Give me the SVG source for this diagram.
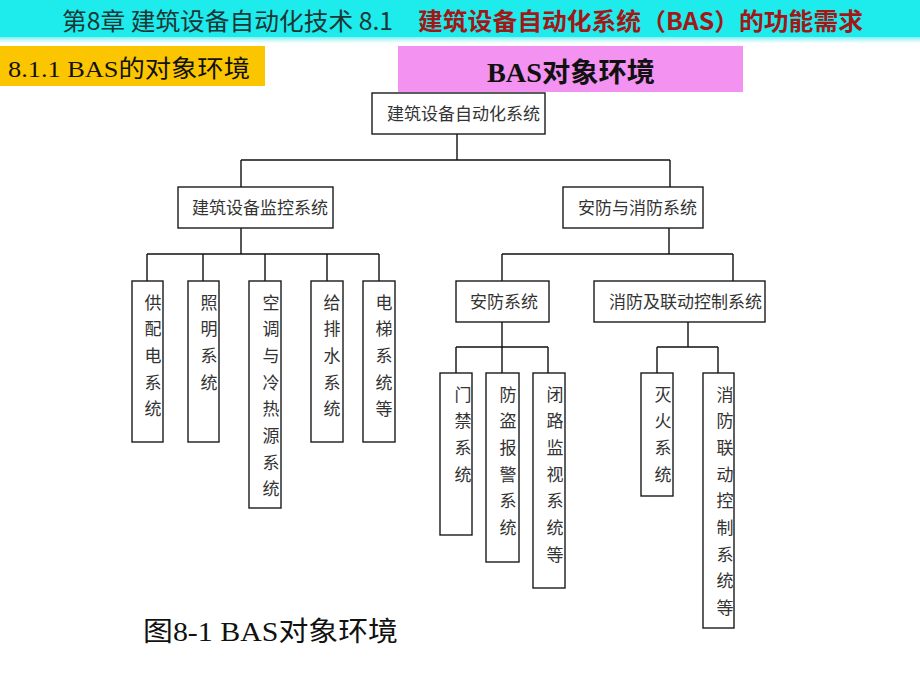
<svg xmlns="http://www.w3.org/2000/svg" width="920" height="690" viewBox="0 0 920 690">
<defs>
<linearGradient id="shade" x1="0" y1="0" x2="0" y2="1">
<stop offset="0" stop-color="#7ff2f2"/>
<stop offset="1" stop-color="#ffffff"/>
</linearGradient>
<style>
.cjk{font-family:"Noto Sans CJK SC","Noto Sans",sans-serif;}
.box{fill:#ffffff;stroke:#1a1a1a;stroke-width:1.4;}
.lbl{font-family:"Noto Sans CJK SC",sans-serif;font-size:17px;fill:#333333;}
.vl{font-family:"Noto Sans CJK SC",sans-serif;font-size:17px;fill:#333333;text-anchor:middle;}
.conn{fill:none;stroke:#111111;stroke-width:1.4;}
</style>
</defs>
<rect x="0" y="0" width="920" height="690" fill="#ffffff"/>
<g id="header">
<rect x="0" y="0" width="920" height="37" fill="#1eebeb"/>
<rect x="0" y="37" width="920" height="6" fill="url(#shade)"/>
<text x="62" y="30" font-family="Noto Sans CJK SC, sans-serif" font-size="24" fill="#1d3636" textLength="331" lengthAdjust="spacingAndGlyphs">第8章 建筑设备自动化技术 8.1</text>
<text x="418" y="30" font-family="Noto Sans CJK SC, sans-serif" font-size="24" font-weight="bold" fill="#a01818" textLength="445" lengthAdjust="spacingAndGlyphs">建筑设备自动化系统（BAS）的功能需求</text>
</g>
<g id="section">
<rect x="0" y="46" width="265" height="40" fill="#fbc600"/>
<text x="8" y="77" font-family="Liberation Serif, Noto Sans CJK SC, serif" font-size="24" fill="#111111" textLength="242" lengthAdjust="spacingAndGlyphs">8.1.1 BAS的对象环境</text>
</g>
<g id="heading">
<rect x="398" y="46" width="345" height="46" fill="#f392f0"/>
<text x="487" y="82" font-family="Liberation Serif, Noto Sans CJK SC, serif" font-size="27" font-weight="bold" fill="#111111" textLength="168" lengthAdjust="spacingAndGlyphs">BAS对象环境</text>
</g>
<g id="connectors" class="conn">
<path d="M457 134V160M241 160H670M241 160V187M670 160V187"/>
<path d="M241 228V254M147 254H379M147 254V281M203 254V281M265 254V281M327 254V281M379 254V281"/>
<path d="M669 228V254M502 254H733M502 254V281M733 254V281"/>
<path d="M502 322V373M456 347H548M456 347V373M548 347V373"/>
<path d="M688 322V347M657 347H718M657 347V373M718 347V373"/>
</g>
<g id="n-root"><rect class="box" x="372" y="93" width="173" height="41"/><text class="lbl" x="387" y="119.5">建筑设备自动化系统</text></g>
<g id="n-jk"><rect class="box" x="178" y="187" width="155" height="41"/><text class="lbl" x="192" y="213.5">建筑设备监控系统</text></g>
<g id="n-afxf"><rect class="box" x="563" y="187" width="140" height="41"/><text class="lbl" x="578" y="213.5">安防与消防系统</text></g>
<g id="n-af"><rect class="box" x="456" y="281" width="93" height="41"/><text class="lbl" x="470" y="307.5">安防系统</text></g>
<g id="n-xf"><rect class="box" x="594" y="281" width="171" height="41"/><text class="lbl" x="609" y="307.5">消防及联动控制系统</text></g>
<g id="n-gpd"><rect class="box" x="132" y="281" width="31" height="161"/><text class="vl"><tspan x="153" y="308.5">供</tspan><tspan x="153" dy="26.7">配</tspan><tspan x="153" dy="26.7">电</tspan><tspan x="153" dy="26.7">系</tspan><tspan x="153" dy="26.7">统</tspan></text></g>
<g id="n-zm"><rect class="box" x="188" y="281" width="31" height="161"/><text class="vl"><tspan x="209" y="308.5">照</tspan><tspan x="209" dy="26.7">明</tspan><tspan x="209" dy="26.7">系</tspan><tspan x="209" dy="26.7">统</tspan></text></g>
<g id="n-kt"><rect class="box" x="249" y="281" width="32" height="227"/><text class="vl"><tspan x="271" y="308.5">空</tspan><tspan x="271" dy="26.7">调</tspan><tspan x="271" dy="26.7">与</tspan><tspan x="271" dy="26.7">冷</tspan><tspan x="271" dy="26.7">热</tspan><tspan x="271" dy="26.7">源</tspan><tspan x="271" dy="26.7">系</tspan><tspan x="271" dy="26.7">统</tspan></text></g>
<g id="n-gps"><rect class="box" x="311" y="281" width="32" height="161"/><text class="vl"><tspan x="332" y="308.5">给</tspan><tspan x="332" dy="26.7">排</tspan><tspan x="332" dy="26.7">水</tspan><tspan x="332" dy="26.7">系</tspan><tspan x="332" dy="26.7">统</tspan></text></g>
<g id="n-dt"><rect class="box" x="363" y="281" width="32" height="161"/><text class="vl"><tspan x="384" y="308.5">电</tspan><tspan x="384" dy="26.7">梯</tspan><tspan x="384" dy="26.7">系</tspan><tspan x="384" dy="26.7">统</tspan><tspan x="384" dy="26.7">等</tspan></text></g>
<g id="n-mj"><rect class="box" x="440" y="373" width="32" height="162"/><text class="vl"><tspan x="463" y="400.5">门</tspan><tspan x="463" dy="26.7">禁</tspan><tspan x="463" dy="26.7">系</tspan><tspan x="463" dy="26.7">统</tspan></text></g>
<g id="n-fd"><rect class="box" x="486" y="373" width="33" height="189"/><text class="vl"><tspan x="508" y="400.5">防</tspan><tspan x="508" dy="26.7">盗</tspan><tspan x="508" dy="26.7">报</tspan><tspan x="508" dy="26.7">警</tspan><tspan x="508" dy="26.7">系</tspan><tspan x="508" dy="26.7">统</tspan></text></g>
<g id="n-bl"><rect class="box" x="533" y="373" width="32" height="215"/><text class="vl"><tspan x="555" y="400.5">闭</tspan><tspan x="555" dy="26.7">路</tspan><tspan x="555" dy="26.7">监</tspan><tspan x="555" dy="26.7">视</tspan><tspan x="555" dy="26.7">系</tspan><tspan x="555" dy="26.7">统</tspan><tspan x="555" dy="26.7">等</tspan></text></g>
<g id="n-mh"><rect class="box" x="641" y="373" width="32" height="123"/><text class="vl"><tspan x="663" y="400.5">灭</tspan><tspan x="663" dy="26.7">火</tspan><tspan x="663" dy="26.7">系</tspan><tspan x="663" dy="26.7">统</tspan></text></g>
<g id="n-xfld"><rect class="box" x="703" y="373" width="31" height="255"/><text class="vl"><tspan x="725" y="400.5">消</tspan><tspan x="725" dy="26.7">防</tspan><tspan x="725" dy="26.7">联</tspan><tspan x="725" dy="26.7">动</tspan><tspan x="725" dy="26.7">控</tspan><tspan x="725" dy="26.7">制</tspan><tspan x="725" dy="26.7">系</tspan><tspan x="725" dy="26.7">统</tspan><tspan x="725" dy="26.7">等</tspan></text></g>
<g id="caption">
<text x="143" y="641" font-family="Liberation Serif, Noto Sans CJK SC, serif" font-size="27" fill="#111111" textLength="255" lengthAdjust="spacingAndGlyphs">图8-1 BAS对象环境</text>
</g>
</svg>
